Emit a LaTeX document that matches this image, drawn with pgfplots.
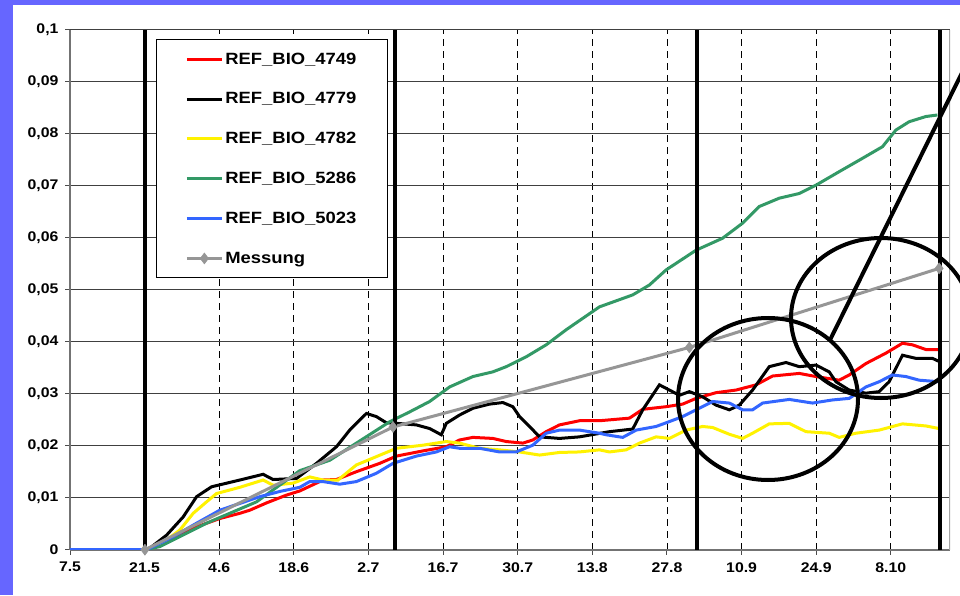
\documentclass[border=0pt]{standalone}
\usepackage{pgfplots}
\pgfplotsset{compat=1.18}
\usepackage{fontspec}
\setmainfont{Liberation Sans}[FakeStretch=1.13]
\definecolor{bgblue}{RGB}{102,102,255}
\definecolor{sgreen}{RGB}{51,153,102}
\definecolor{sblue}{RGB}{51,102,255}
\definecolor{mgray}{RGB}{150,150,150}

\begin{document}
\begin{tikzpicture}[x=1pt,y=1pt]
\useasboundingbox (0pt,0pt) rectangle (960pt,595pt);
\clip (0pt,0pt) rectangle (960pt,595pt);
\fill[bgblue] (0pt,0pt) rectangle (960pt,595pt);
\fill[white] (13pt,0pt) rectangle (960pt,590pt);
\begin{axis}[
  at={(70pt,45.3pt)}, anchor=south west,
  scale only axis, width=880pt, height=520pt,
  xmin=0, xmax=165.1, ymin=0, ymax=0.1,
  axis x line*=bottom, axis y line*=left,
  axis line style={black!55, line width=1.6pt},
  xtick={0,14,28,42,56,70,84,98,112,126,140,154},
  xticklabels={7.5,21.5,4.6,18.6,2.7,16.7,30.7,13.8,27.8,10.9,24.9,8.10},
  ytick={0,0.01,0.02,0.03,0.04,0.05,0.06,0.07,0.08,0.09,0.1},
  yticklabels={0,{0,01},{0,02},{0,03},{0,04},{0,05},{0,06},{0,07},{0,08},{0,09},{0,1}},
  tick label style={font=\fontsize{14}{16}\selectfont\bfseries},
  xticklabel style={yshift=-4pt},
  yticklabel style={xshift=-3pt},
  tick align=outside, major tick length=5pt,
  tick style={black!70, line width=1pt},
  xmajorgrids, ymajorgrids,
  x grid style={black, dash pattern=on 7pt off 5pt, line width=0.8pt},
  y grid style={black!75, line width=1pt},
  legend style={at={(rel axis cs:0.0977,0.9815)}, anchor=north west,
    draw=black, line width=0.8pt, fill=white,
    font=\fontsize{16.3}{19}\selectfont\bfseries,
    inner xsep=29pt, inner ysep=11pt, row sep=23pt,
    cells={anchor=west}},
  legend image code/.code={\draw[mark repeat=2,mark phase=2,#1] plot coordinates {(0pt,0pt) (17.5pt,0pt) (35pt,0pt)};},
]
\addplot[red, line width=3pt] table {
0 0
14.06 0
14.99 0.0003
19.36 0.0022
23.75 0.0044
28.11 0.0060
31.86 0.0070
33.74 0.0076
36.87 0.0090
40.61 0.0105
43.11 0.0113
44.98 0.0122
47.47 0.0134
49.99 0.0135
53.73 0.0150
58.10 0.0166
61.23 0.0180
66.22 0.0190
70.60 0.0198
73.09 0.0211
75.59 0.0216
79.33 0.0214
81.85 0.0208
84.96 0.0205
86.83 0.0211
89.34 0.0227
91.84 0.0240
95.58 0.0248
99.33 0.0248
104.96 0.0253
107.45 0.0270
111.83 0.0275
114.94 0.0280
117.46 0.0291
121.21 0.0302
124.95 0.0307
128.70 0.0317
131.81 0.0334
136.82 0.0339
139.95 0.0333
144.31 0.0326
146.19 0.0336
149.32 0.0358
153.07 0.0378
156.18 0.0397
158.05 0.0394
160.56 0.0385
163.06 0.0385
};
\addlegendentry{REF\_BIO\_4749}
\addplot[black, line width=3pt] table {
0 0
14.06 0
14.99 0.0003
18.12 0.0028
21.23 0.0063
23.75 0.0102
26.56 0.0121
31.86 0.0134
36.23 0.0145
38.10 0.0135
42.49 0.0137
46.24 0.0166
49.99 0.0198
52.48 0.0230
55.61 0.0262
57.48 0.0256
59.36 0.0244
61.23 0.0243
64.98 0.0240
67.47 0.0233
69.66 0.0221
70.60 0.0243
73.09 0.0259
75.59 0.0272
78.72 0.0280
81.21 0.0283
83.08 0.0275
84.34 0.0256
86.21 0.0237
88.09 0.0217
91.84 0.0214
95.58 0.0217
101.21 0.0227
105.57 0.0232
107.45 0.0269
110.58 0.0317
114.33 0.0297
116.20 0.0304
118.69 0.0294
121.21 0.0278
123.70 0.0269
125.57 0.0278
128.06 0.0307
131.19 0.0352
134.32 0.0360
136.82 0.0352
139.95 0.0355
142.44 0.0342
143.69 0.0323
146.19 0.0307
149.32 0.0301
151.81 0.0304
153.68 0.0323
156.18 0.0374
158.69 0.0368
161.80 0.0368
163.06 0.0362
};
\addlegendentry{REF\_BIO\_4779}
\addplot[yellow, line width=3pt] table {
0 0
14.06 0
16.87 0.0009
20.62 0.0038
23.11 0.0070
25.62 0.0092
27.49 0.0108
31.86 0.0120
36.23 0.0134
38.10 0.0124
41.85 0.0128
44.98 0.0140
47.47 0.0134
50.28 0.0134
53.73 0.0163
57.48 0.0179
61.23 0.0195
66.22 0.0201
70.60 0.0208
73.09 0.0205
76.84 0.0195
80.59 0.0192
84.34 0.0188
88.09 0.0182
91.84 0.0187
95.58 0.0188
99.33 0.0192
101.21 0.0188
104.34 0.0192
106.83 0.0205
109.96 0.0217
112.45 0.0214
115.58 0.0230
118.69 0.0237
120.57 0.0235
123.70 0.0222
126.19 0.0214
128.06 0.0224
131.19 0.0242
134.94 0.0243
138.07 0.0227
142.44 0.0224
144.31 0.0216
147.44 0.0224
151.81 0.0230
156.18 0.0242
160.56 0.0238
163.06 0.0233
};
\addlegendentry{REF\_BIO\_4782}
\addplot[sgreen, line width=3pt] table {
0 0
14.06 0
16.87 0.0006
25.62 0.0051
34.99 0.0092
43.11 0.0152
48.73 0.0172
53.73 0.0205
59.97 0.0246
63.72 0.0265
67.47 0.0285
71.22 0.0313
75.59 0.0333
79.33 0.0342
81.85 0.0352
85.59 0.0371
89.34 0.0394
93.09 0.0423
99.33 0.0467
105.57 0.0490
108.70 0.0509
111.83 0.0538
117.46 0.0576
122.44 0.0599
126.19 0.0628
129.32 0.0660
133.07 0.0676
136.82 0.0685
139.95 0.0701
144.31 0.0727
148.06 0.0749
152.43 0.0775
154.94 0.0807
157.43 0.0823
160.56 0.0833
162.74 0.0836
};
\addlegendentry{REF\_BIO\_5286}
\addplot[sblue, line width=3pt] table {
0 0
14.06 0
14.99 0.0003
19.36 0.0025
23.75 0.0051
28.11 0.0076
31.86 0.0089
35.61 0.0102
39.36 0.0112
43.11 0.0120
44.98 0.0131
47.47 0.0131
50.60 0.0126
53.73 0.0131
57.48 0.0147
60.59 0.0166
64.98 0.0180
68.73 0.0188
71.22 0.0198
73.09 0.0195
76.84 0.0195
80.59 0.0188
83.72 0.0188
86.83 0.0201
89.34 0.0224
91.84 0.0230
95.58 0.0230
99.33 0.0224
100.59 0.0221
103.70 0.0216
106.21 0.0230
109.96 0.0237
111.83 0.0244
114.94 0.0256
117.46 0.0269
120.57 0.0285
123.70 0.0282
126.19 0.0269
128.06 0.0269
129.94 0.0282
134.94 0.0289
139.31 0.0282
143.06 0.0288
146.19 0.0291
149.32 0.0313
151.81 0.0323
154.31 0.0336
156.82 0.0333
159.31 0.0326
163.06 0.0323
};
\addlegendentry{REF\_BIO\_5023}
\addplot[mgray, line width=3pt, mark=diamond*, mark size=5.5pt,
  mark options={solid, fill=mgray, draw=mgray, line width=0.5pt}] table {
14.06 0
60.6 0.0236
116.2 0.0389
163.06 0.0541
};
\addlegendentry{Messung}
\draw[black!35, line width=1.5pt] (rel axis cs:1,0) -- (rel axis cs:1,1);
\draw[black, line width=4pt] (axis cs:14.0,0) -- (axis cs:14.0,0.1);
\draw[black, line width=4pt] (axis cs:60.9,0) -- (axis cs:60.9,0.1);
\draw[black, line width=4pt] (axis cs:117.7,0) -- (axis cs:117.7,0.1);
\draw[black, line width=4pt] (axis cs:163.2,0) -- (axis cs:163.2,0.1);
\end{axis}
\draw[black, line width=4pt] (768pt,196pt) ellipse [x radius=90pt, y radius=81pt];
\draw[black, line width=4pt] (881pt,277pt) ellipse [x radius=90pt, y radius=80pt];
\draw[black, line width=4pt] (830pt,255pt) -- (1010pt,619.5pt);
\end{tikzpicture}
\end{document}
